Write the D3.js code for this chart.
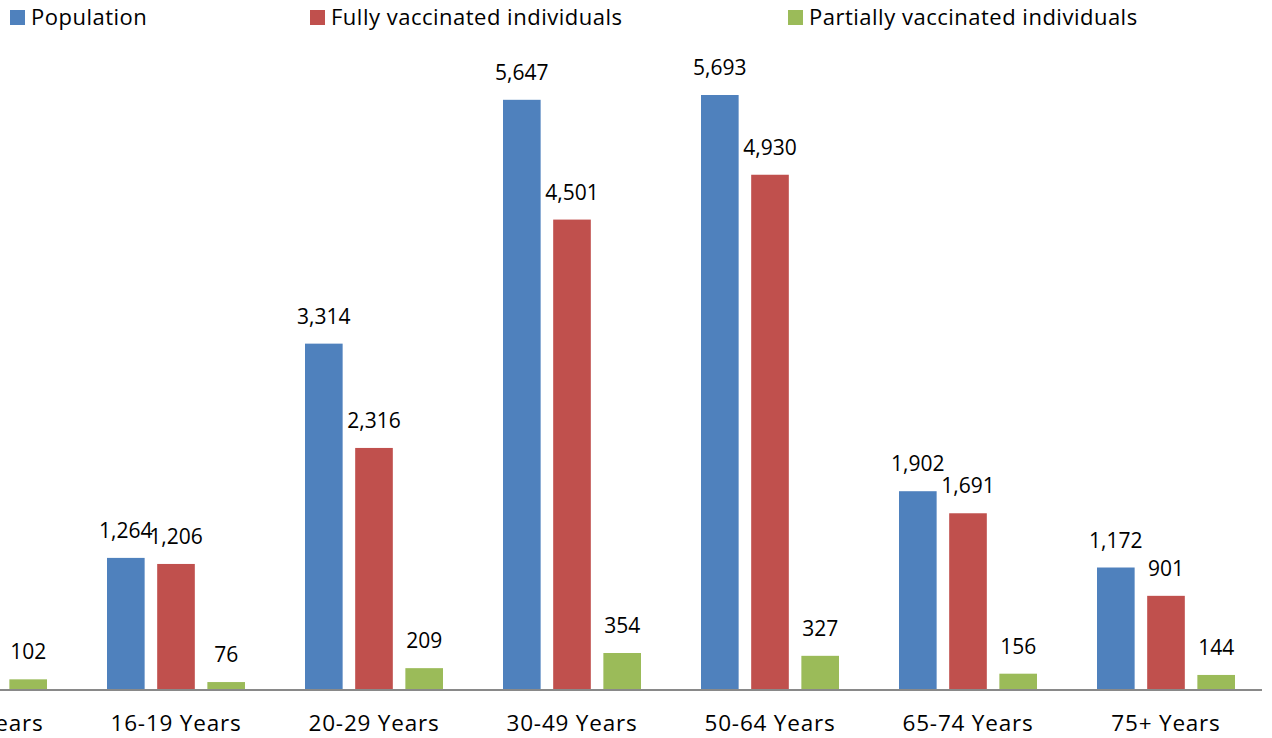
<!DOCTYPE html>
<html>
<head>
<meta charset="utf-8">
<script src="https://cdn.jsdelivr.net/npm/d3@7"></script>
<style>
  html, body { margin: 0; padding: 0; background: #fff; overflow: hidden; }
  svg text { font-family: "Open Sans", Lato, sans-serif; fill: #000; }
</style>
</head>
<body>
<div id="chart"></div>
<script>
const categories = ['12-15 Years', '16-19 Years', '20-29 Years', '30-49 Years', '50-64 Years', '65-74 Years', '75+ Years'];
const population = [1150, 1264, 3314, 5647, 5693, 1902, 1172];
const fullyVaccinated = [820, 1206, 2316, 4501, 4930, 1691, 901];
const partiallyVaccinated = [102, 76, 209, 354, 327, 156, 144];

const seriesNames = ['Population', 'Fully vaccinated individuals', 'Partially vaccinated individuals'];
const colors = ['#4F81BD', '#C0504D', '#9BBB59'];

const W = 1272, H = 738;
const baseline = 690;

const svg = d3.select('#chart').append('svg')
  .attr('width', W)
  .attr('height', H);

// first category is cut off at the left edge, like the reference
const x = d3.scaleBand()
  .domain(categories)
  .range([-121, 1265])
  .paddingInner(0)
  .paddingOuter(0);

const inner = d3.scaleBand()
  .domain(d3.range(3))
  .range([30, 168])
  .paddingInner(0.25);

const y = d3.scaleLinear()
  .domain([0, 5693])
  .range([baseline, 95]);

const fmt = d3.format(',');

const rows = categories.map((c, i) => ({
  cat: c,
  vals: [population[i], fullyVaccinated[i], partiallyVaccinated[i]]
}));

const groups = svg.append('g')
  .selectAll('g')
  .data(rows)
  .join('g')
  .attr('transform', d => `translate(${x(d.cat)},0)`);

const bars = groups.selectAll('g.bar')
  .data(d => d.vals.map((v, k) => ({ v, k })))
  .join('g')
  .attr('class', 'bar');

bars.append('rect')
  .attr('x', d => inner(d.k))
  .attr('y', d => y(d.v))
  .attr('width', inner.bandwidth())
  .attr('height', d => baseline - y(d.v))
  .attr('fill', d => colors[d.k]);

bars.append('text')
  .attr('x', d => inner(d.k) + inner.bandwidth() / 2)
  .attr('y', d => y(d.v) - 20)
  .attr('text-anchor', 'middle')
  .style('font-size', '21px')
  .text(d => fmt(d.v));

// axis
const axis = d3.axisBottom(x).tickSize(0).tickPadding(25);
const ax = svg.append('g')
  .attr('transform', `translate(0,${baseline})`)
  .call(axis);
ax.select('.domain').attr('stroke', '#898989').attr('stroke-width', 2)
  .attr('d', 'M0,0H1262');
ax.selectAll('.tick text')
  .style('font-size', '22.5px')
  .style('letter-spacing', '0.8px')
  .style('font-family', '"Open Sans", Lato, sans-serif')
  .attr('fill', '#000');

// legend
const legendX = [10, 310, 788];
const legend = svg.append('g')
  .selectAll('g')
  .data(seriesNames)
  .join('g')
  .attr('transform', (d, i) => `translate(${legendX[i]},10)`);

legend.append('rect')
  .attr('width', 15)
  .attr('height', 15)
  .attr('fill', (d, i) => colors[i]);

legend.append('text')
  .attr('x', 21)
  .attr('y', 15)
  .style('font-size', '22px')
  .style('letter-spacing', '0.5px')
  .text(d => d);
</script>
</body>
</html>
